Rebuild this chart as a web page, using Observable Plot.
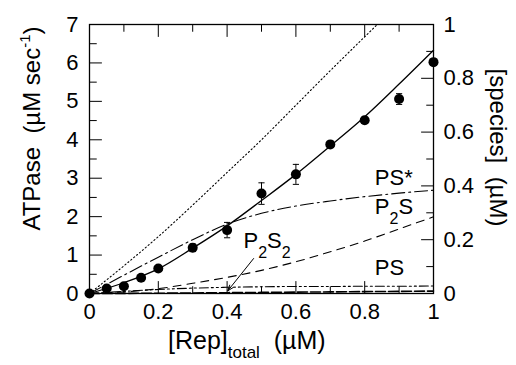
<!DOCTYPE html>
<html><head><meta charset="utf-8">
<script src="https://cdn.jsdelivr.net/npm/d3@7"></script>
<script src="https://cdn.jsdelivr.net/npm/@observablehq/plot@0.6"></script>
<style>
body{margin:0;background:#fff}
svg{display:block}
</style>
</head><body><div id="chart"></div>
<script>
// ---- data ----
// measured ATPase rates (µM/s) vs total Rep (µM)
const repObs = [0, 0.05, 0.1, 0.15, 0.2, 0.3, 0.4, 0.5, 0.6, 0.7, 0.8, 0.9, 1.0];
const atpObs = [0, 0.13, 0.19, 0.41, 0.65, 1.19, 1.65, 2.60, 3.10, 3.88, 4.51, 5.06, 6.02];
const atpErr = [0, 0.04, 0.05, 0.05, 0.06, 0.10, 0.20, 0.28, 0.26, 0.08, 0.08, 0.14, 0.08];

// model curves on a 0.1 grid
const repGrid = [0, 0.1, 0.2, 0.3, 0.4, 0.5, 0.6, 0.7, 0.8, 0.9, 1.0];
const atpFit = [0, 0.28, 0.64, 1.18, 1.76, 2.42, 3.10, 3.84, 4.60, 5.45, 6.33];        // solid
const atpDotted = [0, 0.72, 1.48, 2.30, 3.15, 4.00, 4.90, 5.80, 6.68, 7.55, 8.40];     // dotted
const psStar = [0, 0.068, 0.135, 0.200, 0.258, 0.298, 0.325, 0.344, 0.360, 0.373, 0.384]; // [PS*] µM
const p2s = [0, 0.006, 0.018, 0.038, 0.060, 0.086, 0.118, 0.155, 0.195, 0.240, 0.285];   // [P2S]
const ps = [0, 0.008, 0.015, 0.020, 0.023, 0.025, 0.026, 0.026, 0.027, 0.027, 0.028];    // [PS]
const p2s2 = [0, 0.0005, 0.001, 0.002, 0.003, 0.004, 0.005, 0.006, 0.007, 0.008, 0.009]; // [P2S2]

// axes
const xTicks = [0, 0.1, 0.2, 0.3, 0.4, 0.5, 0.6, 0.7, 0.8, 0.9, 1.0];
const xTickLabels = [0, 0.2, 0.4, 0.6, 0.8, 1];
const yTicks = [0, 0.5, 1, 1.5, 2, 2.5, 3, 3.5, 4, 4.5, 5, 5.5, 6, 6.5, 7];
const yTickLabels = [0, 1, 2, 3, 4, 5, 6, 7];
const speciesTicks = [0, 0.1, 0.2, 0.3, 0.4, 0.5, 0.6, 0.7, 0.8, 0.9, 1.0];
const speciesTickLabels = [0, 0.2, 0.4, 0.6, 0.8, 1];
const SPECIES_SCALE = 7; // right axis 0–1 µM spans the same height as left 0–7

// curve labels (x in µM Rep, s in µM species)
const curveLabels = [
  {x: 0.831, s: 0.401, parts: [["PS*", 0]]},
  {x: 0.831, s: 0.292, parts: [["P", 0], ["2", 1], ["S", 0]]},
  {x: 0.831, s: 0.068, parts: [["PS", 0]]},
  {x: 0.449, s: 0.169, parts: [["P", 0], ["2", 1], ["S", 0], ["2", 1]]}
];
const arrowFrom = [0.477, 0.91];
const arrowTo = [0.402, 0.07];

// ---- build ----
const obs = repObs.map((x, i) => ({x, y: atpObs[i], e: atpErr[i]}));
const grid = (arr) => repGrid.map((x, i) => ({x, v: arr[i]}));
const FONT = "'Liberation Sans', Arial, Helvetica, sans-serif";
const tickShape = {draw(ctx, l) { ctx.moveTo(0, 0); ctx.lineTo(0, -l); }};
const tickMarks = (vals, isMajor, fixed, rotate, scaleK) =>
  Plot.vector(vals, {
    x: fixed.x !== undefined ? () => fixed.x : (d) => d,
    y: fixed.y !== undefined ? () => fixed.y : (d) => d * (scaleK || 1),
    length: (d) => (isMajor(d) ? 7 : 4),
    rotate, anchor: "start", shape: tickShape, stroke: "black", strokeWidth: 1
  });
const near = (a, b) => Math.abs(a - b) < 1e-6;
const isEven01 = (d) => near(Math.round(d * 10) % 2, 0);

const svg = Plot.plot({
  width: 516, height: 365,
  marginLeft: 89, marginRight: 83, marginTop: 24, marginBottom: 72,
  style: {fontFamily: FONT, fontSize: "22px", color: "black", background: "white"},
  x: {domain: [0, 1], label: null},
  y: {domain: [0, 7], label: null},
  marks: [
    // model curves
    Plot.line(grid(atpDotted), {x: "x", y: "v", stroke: "black", strokeWidth: 1.1, strokeDasharray: "1.2,2.6", curve: "monotone-x", clip: true}),
    Plot.line(grid(psStar), {x: "x", y: (d) => d.v * SPECIES_SCALE, stroke: "black", strokeWidth: 1.1, strokeDasharray: "13,4,2,4", curve: "monotone-x"}),
    Plot.line(grid(p2s), {x: "x", y: (d) => d.v * SPECIES_SCALE, stroke: "black", strokeWidth: 1.1, strokeDasharray: "8,6", curve: "monotone-x"}),
    Plot.line(grid(ps), {x: "x", y: (d) => d.v * SPECIES_SCALE, stroke: "black", strokeWidth: 1.1, strokeDasharray: "9,3,2,3,2,3", curve: "monotone-x"}),
    Plot.line(grid(p2s2), {x: "x", y: (d) => d.v * SPECIES_SCALE, stroke: "black", strokeWidth: 1.6, strokeDasharray: "10,3", curve: "monotone-x"}),
    Plot.line(grid(atpFit), {x: "x", y: "v", stroke: "black", strokeWidth: 1.3, curve: "catmull-rom"}),
    // error bars
    Plot.ruleX(obs.filter(d => d.e > 0), {x: "x", y1: (d) => d.y - d.e, y2: (d) => d.y + d.e, stroke: "black", strokeWidth: 1}),
    Plot.link(obs.filter(d => d.e > 0), {x1: (d) => d.x - 0.009, x2: (d) => d.x + 0.009, y1: (d) => d.y + d.e, y2: (d) => d.y + d.e, stroke: "black", strokeWidth: 1}),
    Plot.link(obs.filter(d => d.e > 0), {x1: (d) => d.x - 0.009, x2: (d) => d.x + 0.009, y1: (d) => d.y - d.e, y2: (d) => d.y - d.e, stroke: "black", strokeWidth: 1}),
    Plot.dot(obs, {x: "x", y: "y", r: 5, fill: "black", stroke: "none"}),
    // arrow to P2S2
    Plot.arrow([{}], {x1: () => arrowFrom[0], y1: () => arrowFrom[1], x2: () => arrowTo[0], y2: () => arrowTo[1], stroke: "black", strokeWidth: 1, headLength: 9, headAngle: 40}),
    // frame + ticks (inward)
    Plot.frame({stroke: "black", strokeWidth: 1.3}),
    tickMarks(xTicks, isEven01, {y: 0}, 0),
    tickMarks(xTicks, isEven01, {y: 7}, 180),
    tickMarks(yTicks, (d) => Number.isInteger(d), {x: 0}, 90),
    tickMarks(speciesTicks, isEven01, {x: 1}, -90, SPECIES_SCALE),
    // tick labels
    Plot.axisX({ticks: xTickLabels, tickSize: 0, tickPadding: 10, tickFormat: d3.format("~g"), label: null}),
    Plot.axisY({anchor: "left", ticks: yTickLabels, tickSize: 0, tickPadding: 11, tickFormat: d3.format("~g"), label: null}),
    Plot.axisY({anchor: "right", ticks: speciesTickLabels.map(v => v * SPECIES_SCALE), tickSize: 0, tickPadding: 10,
      tickFormat: (d) => d3.format("~g")(+(d / SPECIES_SCALE).toFixed(3)), label: null})
  ]
});
document.getElementById("chart").appendChild(svg);

// ---- text with sub/superscripts, positioned through Plot's scales ----
const sx = svg.scale("x"), sy = svg.scale("y");
const root = d3.select(svg);
const g = root.append("g").attr("font-family", FONT).attr("fill", "black").attr("text-anchor", "start");

for (const lab of curveLabels) {
  const t = g.append("text").attr("x", sx.apply(lab.x)).attr("y", sy.apply(lab.s * SPECIES_SCALE)).attr("font-size", 22);
  let cur = 0;
  for (const [str, sub] of lab.parts) {
    const shift = sub ? 10 : 0;
    t.append("tspan").attr("dy", shift - cur).attr("font-size", sub ? 16 : 22).text(str);
    cur = shift;
  }
}

// left axis title
const left = g.append("text")
  .attr("transform", `translate(40,${(sy.apply(0) + sy.apply(7)) / 2 - 30}) rotate(-90)`)
  .attr("text-anchor", "middle").attr("font-size", 24);
left.append("tspan").text("ATPase\u00a0\u00a0(\u00b5M sec");
left.append("tspan").attr("dy", -10).attr("font-size", 15).text("-1");
left.append("tspan").attr("dy", 10).text(")");

// right axis title
g.append("text")
  .attr("transform", `translate(490,${(sy.apply(0) + sy.apply(7)) / 2 - 11}) rotate(90)`)
  .attr("text-anchor", "middle").attr("font-size", 24)
  .text("[species]\u00a0\u00a0(\u00b5M)");

// x axis title
const xt = g.append("text").attr("x", 168).attr("y", 349).attr("font-size", 25);
xt.append("tspan").text("[Rep]");
xt.append("tspan").attr("dy", 9).attr("font-size", 17).text("total");
xt.append("tspan").attr("dy", -9).text("\u00a0\u00a0(\u00b5M)");
</script>
</body></html>
